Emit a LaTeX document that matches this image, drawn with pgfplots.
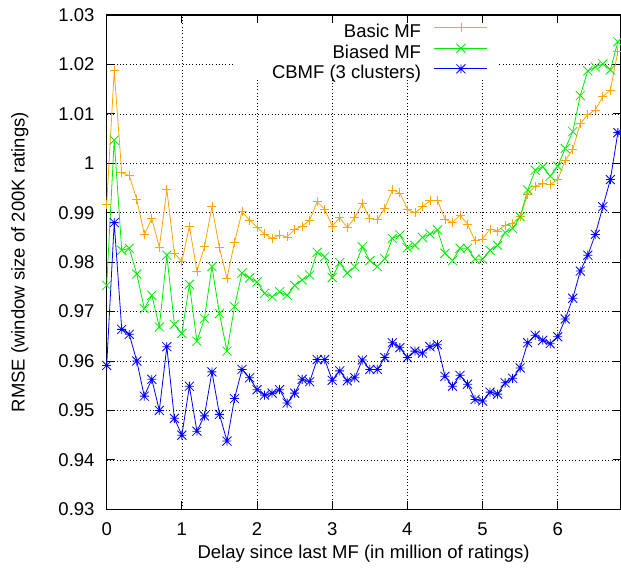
\documentclass[border=0pt]{standalone}
\usepackage{fontspec}
\setmainfont{Liberation Sans}
\usepackage{pgfplots}
\usepackage{pgfplotstable}
\pgfplotsset{compat=1.18}

% gnuplot style marks: x and * (plus and cross together)
\pgfdeclareplotmark{gpx}{%
  \pgfpathmoveto{\pgfqpoint{-\pgfplotmarksize}{-\pgfplotmarksize}}%
  \pgfpathlineto{\pgfqpoint{\pgfplotmarksize}{\pgfplotmarksize}}%
  \pgfpathmoveto{\pgfqpoint{-\pgfplotmarksize}{\pgfplotmarksize}}%
  \pgfpathlineto{\pgfqpoint{\pgfplotmarksize}{-\pgfplotmarksize}}%
  \pgfusepathqstroke}
\pgfdeclareplotmark{gpstar}{%
  \pgfpathmoveto{\pgfqpoint{-\pgfplotmarksize}{0pt}}%
  \pgfpathlineto{\pgfqpoint{\pgfplotmarksize}{0pt}}%
  \pgfpathmoveto{\pgfqpoint{0pt}{-\pgfplotmarksize}}%
  \pgfpathlineto{\pgfqpoint{0pt}{\pgfplotmarksize}}%
  \pgfpathmoveto{\pgfqpoint{-\pgfplotmarksize}{-\pgfplotmarksize}}%
  \pgfpathlineto{\pgfqpoint{\pgfplotmarksize}{\pgfplotmarksize}}%
  \pgfpathmoveto{\pgfqpoint{-\pgfplotmarksize}{\pgfplotmarksize}}%
  \pgfpathlineto{\pgfqpoint{\pgfplotmarksize}{-\pgfplotmarksize}}%
  \pgfusepathqstroke}

\definecolor{gporange}{RGB}{255,165,0}
\definecolor{gpgreen}{RGB}{0,238,0}
\definecolor{gpblue}{RGB}{0,0,255}

\pgfplotstableread{
x basic biased cbmf
0.0 0.9917 0.9753 0.9591
0.1 1.0187 1.0047 0.9880
0.2 0.9981 0.9824 0.9664
0.3 0.9975 0.9828 0.9654
0.4 0.9927 0.9776 0.9600
0.5 0.9856 0.9706 0.9529
0.6 0.9888 0.9733 0.9563
0.7 0.9830 0.9669 0.9500
0.8 0.9947 0.9814 0.9629
0.9 0.9818 0.9674 0.9484
1.0 0.9801 0.9656 0.9450
1.1 0.9873 0.9755 0.9549
1.2 0.9782 0.9640 0.9458
1.3 0.9831 0.9686 0.9489
1.4 0.9912 0.9791 0.9578
1.5 0.9829 0.9696 0.9492
1.6 0.9767 0.9620 0.9438
1.7 0.9840 0.9710 0.9524
1.8 0.9902 0.9778 0.9583
1.9 0.9885 0.9768 0.9566
2.0 0.9871 0.9760 0.9542
2.1 0.9857 0.9737 0.9531
2.2 0.9848 0.9730 0.9535
2.3 0.9855 0.9740 0.9542
2.4 0.9851 0.9733 0.9515
2.5 0.9866 0.9753 0.9535
2.6 0.9873 0.9764 0.9563
2.7 0.9885 0.9774 0.9558
2.8 0.9922 0.9820 0.9603
2.9 0.9907 0.9811 0.9603
3.0 0.9873 0.9769 0.9561
3.1 0.9890 0.9799 0.9580
3.2 0.9870 0.9778 0.9560
3.3 0.9890 0.9791 0.9566
3.4 0.9919 0.9831 0.9602
3.5 0.9888 0.9803 0.9583
3.6 0.9886 0.9791 0.9583
3.7 0.9909 0.9807 0.9607
3.8 0.9946 0.9848 0.9637
3.9 0.9940 0.9855 0.9627
4.0 0.9907 0.9829 0.9607
4.1 0.9900 0.9834 0.9620
4.2 0.9912 0.9850 0.9616
4.3 0.9924 0.9857 0.9629
4.4 0.9925 0.9865 0.9633
4.5 0.9887 0.9818 0.9569
4.6 0.9880 0.9803 0.9549
4.7 0.9895 0.9828 0.9571
4.8 0.9877 0.9828 0.9553
4.9 0.9843 0.9806 0.9522
5.0 0.9847 0.9806 0.9519
5.1 0.9867 0.9824 0.9537
5.2 0.9863 0.9834 0.9533
5.3 0.9875 0.9860 0.9556
5.4 0.9878 0.9868 0.9565
5.5 0.9892 0.9892 0.9586
5.6 0.9937 0.9946 0.9637
5.7 0.9954 0.9986 0.9652
5.8 0.9959 0.9993 0.9642
5.9 0.9957 0.9974 0.9635
6.0 0.9967 0.9994 0.9649
6.1 1.0006 1.0030 0.9685
6.2 1.0028 1.0064 0.9727
6.3 1.0081 1.0137 0.9782
6.4 1.0098 1.0187 0.9814
6.5 1.0108 1.0195 0.9856
6.6 1.0135 1.0201 0.9912
6.7 1.0148 1.0189 0.9967
6.8 1.0226 1.0246 1.0062
}\rmse

\begin{document}
\fontsize{18.5bp}{21bp}\selectfont
\begin{tikzpicture}
\begin{axis}[
  name=ax,
  scale only axis,
  width=513.8bp, height=494.3bp,
  xmin=0, xmax=6.835,
  ymin=0.93, ymax=1.03,
  xtick={0,1,2,3,4,5,6},
  ytick={0.93,0.94,0.95,0.96,0.97,0.98,0.99,1.00,1.01,1.02,1.03},
  yticklabels={0.93,0.94,0.95,0.96,0.97,0.98,0.99,1,1.01,1.02,1.03},
  /pgf/number format/assume math mode=true,
  tick align=inside,
  major tick length=8bp,
  tick style={black, line width=0.8bp},
  axis line style={black, line width=1.1bp},
  grid=major,
  major grid style={black, line width=0.7bp, dash pattern=on 0.7bp off 2.6bp},
  yticklabel style={inner sep=0pt, xshift=-12bp},
  xticklabel style={inner sep=0pt, yshift=-13bp},
  xlabel={Delay since last MF (in million of ratings)},
  ylabel={RMSE (window size of 200K ratings)},
  xlabel style={at={(axis description cs:0.5,-0.0992)}, anchor=base, inner sep=0pt},
  ylabel style={at={(axis description cs:-0.152,0.5)}, anchor=south, inner sep=0pt},
  legend plot pos=right,
  legend cell align=right,
  legend style={at={(axis cs:5.073,1.0221)}, anchor=east, draw=none, fill=none,
    inner sep=0pt, row sep=0pt, column sep=13bp,
    nodes={inner sep=0pt, text height=13bp, text depth=6bp}},
  legend image code/.code={%
    \draw[mark repeat=2, mark phase=2, yshift=6.6bp, #1]
      plot coordinates {(0bp,0bp) (26.5bp,0bp) (53bp,0bp)};},
  every axis plot/.append style={line width=0.8bp, mark size=4.5bp,
    mark options={solid, line width=0.8bp}},
]
% key area hides the grid, as in the original
\fill[white] (axis cs:1.68,1.0168) rectangle (axis cs:5.205,1.0284);
\fill[white] (axis cs:5.97,1.0204) rectangle (axis cs:6.03,1.0284);
\addplot[color=gporange, mark=+] table[x=x, y=basic] {\rmse};
\addlegendentry{Basic MF}
\addplot[color=gpgreen, mark=gpx] table[x=x, y=biased] {\rmse};
\addlegendentry{Biased MF}
\addplot[color=gpblue, mark=gpstar] table[x=x, y=cbmf] {\rmse};
\addlegendentry{CBMF (3 clusters)}
\end{axis}
\pgfresetboundingbox
\path ([shift={(-106.7bp,-58.7bp)}]ax.south west)
  rectangle ([shift={(0.5bp,15bp)}]ax.north east);
\end{tikzpicture}
\end{document}
